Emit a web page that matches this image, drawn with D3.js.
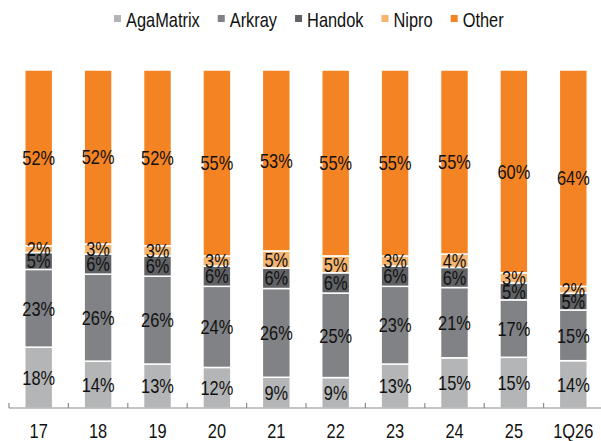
<!DOCTYPE html>
<html>
<head>
<meta charset="utf-8">
<script src="https://cdn.jsdelivr.net/npm/d3@7"></script>
<style>
  body { margin: 0; background: #fff; }
  svg text { font-family: "Liberation Sans", Arial, sans-serif; }
</style>
</head>
<body>
<div id="chart"></div>
<script>
// data
var categories = ["17", "18", "19", "20", "21", "22", "23", "24", "25", "1Q26"];
var seriesNames = ["AgaMatrix", "Arkray", "Handok", "Nipro", "Other"];
var agaMatrix = [18, 14, 13, 12, 9, 9, 13, 15, 15, 14];
var arkray    = [23, 26, 26, 24, 26, 25, 23, 21, 17, 15];
var handok    = [5, 6, 6, 6, 6, 6, 6, 6, 5, 5];
var nipro     = [2, 3, 3, 3, 5, 5, 3, 4, 3, 2];
var other     = [52, 52, 52, 55, 53, 55, 55, 55, 60, 64];
var colors = ["#b4b5b7", "#808285", "#606265", "#f5b46f", "#f48323"];

var width = 601, height = 441;
var margin = {top: 70, right: -2, bottom: 33, left: 9};
var narrow = 0.82; // squeeze Liberation Sans to look like Arial Narrow

var svg = d3.select("#chart")
    .append("svg")
    .attr("width", width)
    .attr("height", height);

// build rows for the stack
var rows = categories.map(function(c, i) {
    var vals = [agaMatrix[i], arkray[i], handok[i], nipro[i], other[i]];
    var total = d3.sum(vals);
    var row = {cat: c};
    seriesNames.forEach(function(s, j) {
        row[s] = vals[j] / total;
        row[s + "_label"] = vals[j];
    });
    return row;
});

var stacked = d3.stack().keys(seriesNames)(rows);

var x = d3.scaleBand()
    .domain(categories)
    .range([margin.left, width - margin.right])
    .paddingInner(0.53)
    .paddingOuter(0.265);

var y = d3.scaleLinear()
    .domain([0, 1])
    .range([height - margin.bottom, margin.top]);

function place(px, py) {
    return "translate(" + px + "," + py + ") scale(" + narrow + ",1)";
}

// bars
var layers = svg.selectAll(".layer")
    .data(stacked)
    .enter()
    .append("g")
    .attr("class", "layer")
    .attr("fill", function(d, i) { return colors[i]; });

layers.selectAll("rect")
    .data(function(d) { return d; })
    .enter()
    .append("rect")
    .attr("x", function(d) { return x(d.data.cat); })
    .attr("y", function(d) { return y(d[1]); })
    .attr("width", x.bandwidth())
    .attr("height", function(d) { return y(d[0]) - y(d[1]); })
    .attr("stroke", "#fff")
    .attr("stroke-width", 1.5);

// value labels
stacked.forEach(function(layer) {
    svg.append("g")
        .selectAll("text")
        .data(layer)
        .enter()
        .append("text")
        .attr("transform", function(d) {
            return place(x(d.data.cat) + x.bandwidth() / 2, (y(d[0]) + y(d[1])) / 2);
        })
        .attr("dy", "0.36em")
        .attr("text-anchor", "middle")
        .style("font-size", "20px")
        .style("fill", "#111")
        .text(function(d) { return d.data[layer.key + "_label"] + "%"; });
});

// x axis line + ticks between categories
var axisY = y(0);
var step = x.step();
svg.append("line")
    .attr("x1", margin.left)
    .attr("x2", width)
    .attr("y1", axisY)
    .attr("y2", axisY)
    .attr("stroke", "#8c8c8c")
    .attr("stroke-width", 1.2);

svg.append("g")
    .selectAll("line")
    .data(categories)
    .enter()
    .append("line")
    .attr("x1", function(d) { return x(d) - (step - x.bandwidth()) / 2; })
    .attr("x2", function(d) { return x(d) - (step - x.bandwidth()) / 2; })
    .attr("y1", axisY)
    .attr("y2", axisY - 5)
    .attr("stroke", "#8c8c8c")
    .attr("stroke-width", 1.2);

// category labels
svg.append("g")
    .selectAll("text")
    .data(categories)
    .enter()
    .append("text")
    .attr("transform", function(d) { return place(x(d) + x.bandwidth() / 2, 438); })
    .attr("text-anchor", "middle")
    .style("font-size", "20px")
    .style("fill", "#111")
    .text(function(d) { return d; });

// legend
var legend = svg.append("g");
var lx = 114;
seriesNames.forEach(function(s, i) {
    legend.append("rect")
        .attr("x", lx)
        .attr("y", 15)
        .attr("width", 7)
        .attr("height", 7)
        .attr("fill", colors[i]);
    var t = legend.append("text")
        .attr("transform", place(lx + 12, 26.5))
        .style("font-size", "20px")
        .style("fill", "#111")
        .text(s);
    lx += 12 + t.node().getComputedTextLength() * narrow + 18;
});
</script>
</body>
</html>
